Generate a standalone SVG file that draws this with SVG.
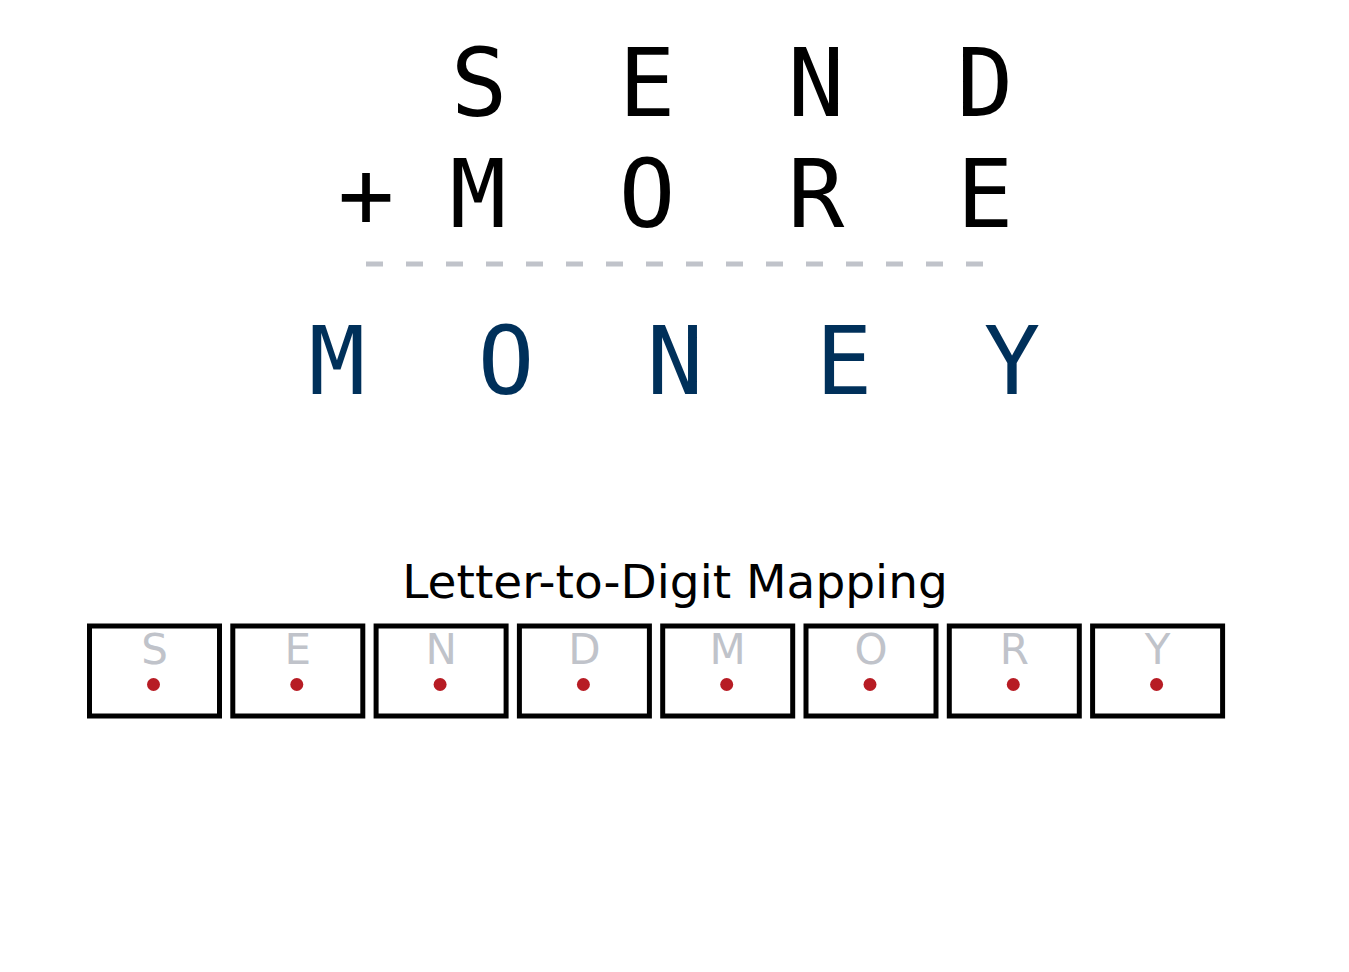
<svg xmlns="http://www.w3.org/2000/svg" width="1349" height="972" viewBox="0 0 1349 972">
<style>
.big{font-family:"DejaVu Sans Mono","Liberation Mono",monospace;font-size:94px;text-anchor:middle;fill:#000}
.res{fill:#00305a}
.title{font-family:"DejaVu Sans","Liberation Sans",sans-serif;font-size:47px;text-anchor:middle;fill:#000}
.box{fill:#fff;stroke:#000;stroke-width:5}
.lbl{font-family:"DejaVu Sans","Liberation Sans",sans-serif;font-size:42px;text-anchor:middle;fill:#c0c3ca}
.dot{fill:#b71c24}
</style>
<rect width="1349" height="972" fill="#fff"/>
<g id="send">
<text class="big" x="479" y="116">S</text>
<text class="big" x="647" y="116">E</text>
<text class="big" x="816" y="116">N</text>
<text class="big" x="985" y="116">D</text>
</g>
<g id="more">
<text class="big" x="366" y="227">+</text>
<text class="big" x="478" y="227">M</text>
<text class="big" x="647" y="227">O</text>
<text class="big" x="816" y="227">R</text>
<text class="big" x="985" y="227">E</text>
</g>
<g id="rule">
<line x1="366" y1="264" x2="985" y2="264" stroke="#c0c3ca" stroke-width="5" stroke-dasharray="17 23"/>
</g>
<g id="money">
<text class="big res" x="337" y="394">M</text>
<text class="big res" x="506" y="394">O</text>
<text class="big res" x="675" y="394">N</text>
<text class="big res" x="844" y="394">E</text>
<text class="big res" x="1012" y="394">Y</text>
</g>
<g id="mapping-title">
<text class="title" x="675" y="598">Letter-to-Digit Mapping</text>
</g>
<g id="box-S"><rect class="box" x="89.5" y="626" width="130" height="90"/><text class="lbl" x="154.5" y="664">S</text><circle class="dot" cx="153.5" cy="684.5" r="6.5"/></g>
<g id="box-E"><rect class="box" x="232.8" y="626" width="130" height="90"/><text class="lbl" x="297.8" y="664">E</text><circle class="dot" cx="296.8" cy="684.5" r="6.5"/></g>
<g id="box-N"><rect class="box" x="376.1" y="626" width="130" height="90"/><text class="lbl" x="441.1" y="664">N</text><circle class="dot" cx="440.1" cy="684.5" r="6.5"/></g>
<g id="box-D"><rect class="box" x="519.4" y="626" width="130" height="90"/><text class="lbl" x="584.4" y="664">D</text><circle class="dot" cx="583.4" cy="684.5" r="6.5"/></g>
<g id="box-M"><rect class="box" x="662.7" y="626" width="130" height="90"/><text class="lbl" x="727.7" y="664">M</text><circle class="dot" cx="726.7" cy="684.5" r="6.5"/></g>
<g id="box-O"><rect class="box" x="806" y="626" width="130" height="90"/><text class="lbl" x="871" y="664">O</text><circle class="dot" cx="870" cy="684.5" r="6.5"/></g>
<g id="box-R"><rect class="box" x="949.3" y="626" width="130" height="90"/><text class="lbl" x="1014.3" y="664">R</text><circle class="dot" cx="1013.3" cy="684.5" r="6.5"/></g>
<g id="box-Y"><rect class="box" x="1092.6" y="626" width="130" height="90"/><text class="lbl" x="1157.6" y="664">Y</text><circle class="dot" cx="1156.6" cy="684.5" r="6.5"/></g>
</svg>
